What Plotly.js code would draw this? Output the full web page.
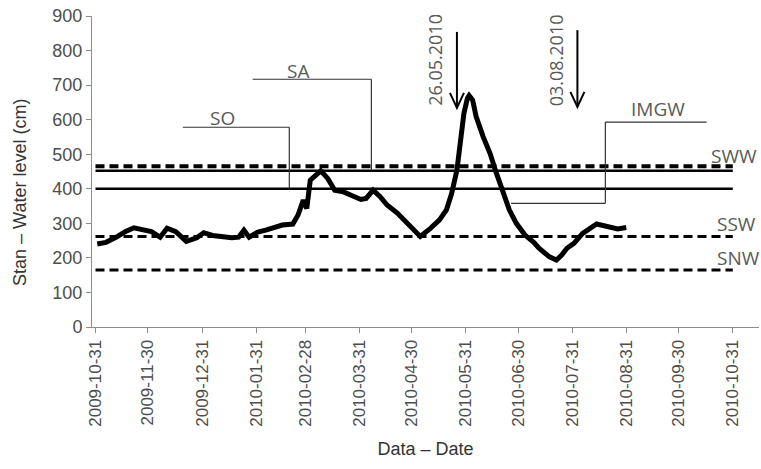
<!DOCTYPE html>
<html>
<head>
<meta charset="utf-8">
<script src="https://cdn.plot.ly/plotly-3.0.1.min.js"></script>
<style>
  html, body { margin: 0; padding: 0; background: #fff; }
  #chart { width: 761px; height: 469px; }
</style>
</head>
<body>
<div id="chart"></div>
<script>
// Daily water level readings (cm)
const dates = [
  '2009-11-01','2009-11-06','2009-11-12','2009-11-17','2009-11-22','2009-11-27',
  '2009-12-02','2009-12-07','2009-12-11','2009-12-16','2009-12-22','2009-12-28',
  '2010-01-01','2010-01-06','2010-01-12','2010-01-17','2010-01-21','2010-01-24',
  '2010-01-27','2010-02-01','2010-02-06','2010-02-10','2010-02-15','2010-02-21',
  '2010-02-24','2010-02-27','2010-03-01','2010-03-03','2010-03-06','2010-03-09',
  '2010-03-13','2010-03-17','2010-03-22','2010-03-27','2010-04-01','2010-04-04',
  '2010-04-08','2010-04-12','2010-04-16','2010-04-22','2010-04-27','2010-05-02',
  '2010-05-05','2010-05-11','2010-05-16','2010-05-20','2010-05-23','2010-05-26',
  '2010-05-28','2010-05-30','2010-06-01','2010-06-02','2010-06-04','2010-06-06',
  '2010-06-10','2010-06-14','2010-06-17','2010-06-21','2010-06-25','2010-06-29',
  '2010-07-04','2010-07-09','2010-07-12','2010-07-18','2010-07-22','2010-07-25',
  '2010-07-28','2010-08-01','2010-08-06','2010-08-14','2010-08-19','2010-08-26',
  '2010-08-31'
];
const levels = [
  240, 245, 260, 276, 287, 283,
  276, 260, 286, 276, 248, 258,
  273, 265, 260, 258, 260, 280,
  260, 275, 281, 288, 295, 298,
  324, 367, 343, 425, 440, 452,
  430, 396, 391, 380, 369, 372,
  396, 377, 353, 329, 305, 278,
  262, 286, 310, 339, 387, 454,
  541, 618, 662, 670, 657, 609,
  551, 502, 454, 396, 339, 300,
  266, 245, 228, 203, 194, 208,
  228, 242, 271, 298, 292, 284,
  288
];

// Characteristic water levels (cm)
const levelSWW = 465;   // high water
const levelSA = 452;    // alarm level
const levelSO = 400;    // warning level
const levelSSW = 262;   // mean water
const levelSNW = 165;   // low water
const levelSpan = ['2009-10-31', '2010-10-31'];

// Axis ticks
const tickDates = [
  '2009-10-31','2009-11-30','2009-12-31','2010-01-31','2010-02-28','2010-03-31',
  '2010-04-30','2010-05-31','2010-06-30','2010-07-31','2010-08-31','2010-09-30',
  '2010-10-31'
];
const yTicks = [0, 100, 200, 300, 400, 500, 600, 700, 800, 900];

// Marked events
const eventDates = ['2010-05-26', '2010-08-03'];
const eventLabels = ['26.05.2010', '03.08.2010'];

const ink = '#000000';
const grey = '#4d4d4d';
const axisGrey = '#8c8c8c';
const labelFont = { family: 'Open Sans, sans-serif', size: 19, color: '#595959' };

function levelTrace(v, dash, w) {
  return {
    x: levelSpan, y: [v, v], type: 'scatter', mode: 'lines',
    line: { color: ink, width: w, dash: dash }, hoverinfo: 'skip'
  };
}

const traces = [
  levelTrace(levelSWW, '9px,5px', 4),
  levelTrace(levelSA, 'solid', 2.5),
  levelTrace(levelSO, 'solid', 2.5),
  levelTrace(levelSSW, '9px,5px', 3),
  levelTrace(levelSNW, '9px,5px', 3),
  {
    x: dates, y: levels, type: 'scatter', mode: 'lines',
    line: { color: ink, width: 5 }
  }
];

const thin = { color: '#333333', width: 1.2 };
const shapes = [
  // SO callout
  { type: 'line', xref: 'x', yref: 'y', x0: '2009-12-20', x1: '2010-02-19', y0: 578, y1: 578, line: thin },
  { type: 'line', xref: 'x', yref: 'y', x0: '2010-02-19', x1: '2010-02-19', y0: 578, y1: levelSO, line: thin },
  // SA callout
  { type: 'line', xref: 'x', yref: 'y', x0: '2010-01-29', x1: '2010-04-07', y0: 717, y1: 717, line: thin },
  { type: 'line', xref: 'x', yref: 'y', x0: '2010-04-07', x1: '2010-04-07', y0: 717, y1: levelSA, line: thin },
  // IMGW callout
  { type: 'line', xref: 'x', yref: 'y', x0: '2010-08-19', x1: '2010-10-16', y0: 593, y1: 593, line: thin },
  { type: 'line', xref: 'x', yref: 'y', x0: '2010-08-19', x1: '2010-08-19', y0: 593, y1: 358, line: thin },
  { type: 'line', xref: 'x', yref: 'y', x0: '2010-06-26', x1: '2010-08-19', y0: 358, y1: 358, line: thin }
];

// Downward arrows above the event dates
const arrowTops = [854, 859];
const arrowTips = [634, 637];
eventDates.forEach(function (d, i) {
  shapes.push({ type: 'line', xref: 'x', yref: 'y', x0: d, x1: d, y0: arrowTops[i], y1: arrowTips[i],
    line: { color: ink, width: 2 } });
  shapes.push({ type: 'path', xref: 'x', yref: 'y', xsizemode: 'pixel', ysizemode: 'pixel',
    xanchor: d, yanchor: arrowTips[i], path: 'M-7,15 L0,0 L7,15',
    line: { color: ink, width: 2 } });
});

const annotations = [
  { xref: 'x', yref: 'y', x: '2010-01-12', y: 604, text: 'SO', showarrow: false, font: labelFont },
  { xref: 'x', yref: 'y', x: '2010-02-24', y: 742, text: 'SA', showarrow: false, font: labelFont },
  { xref: 'x', yref: 'y', x: '2010-09-18', y: 630, text: 'IMGW', showarrow: false, font: labelFont },
  { xref: 'paper', yref: 'y', x: 1.0, y: 494, text: 'SWW', showarrow: false, xanchor: 'right', font: labelFont },
  { xref: 'x', yref: 'y', x: '2010-10-21', y: 298, text: 'SSW', showarrow: false, xanchor: 'left', font: labelFont },
  { xref: 'x', yref: 'y', x: '2010-10-21', y: 200, text: 'SNW', showarrow: false, xanchor: 'left', font: labelFont },
  // y-axis title
  { xref: 'paper', yref: 'paper', x: -0.126, y: 0.434, text: 'Stan – Water level (cm)', textangle: -90,
    showarrow: false, font: { family: 'Liberation Sans, Arial, sans-serif', size: 18, color: '#333333' } }
];
eventDates.forEach(function (d, i) {
  annotations.push({ xref: 'x', yref: 'y', x: d, y: 773, xshift: -22, text: eventLabels[i],
    textangle: -90, showarrow: false, font: { family: 'Open Sans, sans-serif', size: 18, color: '#595959' } });
});

const layout = {
  width: 761, height: 469,
  margin: { l: 92, r: 2, t: 16, b: 142 },
  paper_bgcolor: '#ffffff', plot_bgcolor: '#ffffff',
  showlegend: false,
  font: { family: 'Liberation Sans, Arial, sans-serif', color: grey },
  xaxis: {
    type: 'date', range: ['2009-10-29', '2010-11-15'], autorange: false,
    tickvals: tickDates, ticktext: tickDates, tickangle: -90,
    tickfont: { size: 17, color: grey },
    ticks: 'outside', ticklen: 5, tickcolor: axisGrey,
    showline: true, linecolor: axisGrey, linewidth: 1, showgrid: false, zeroline: false,
    title: { text: 'Data – Date', font: { size: 18, color: '#333333' }, standoff: 16 }
  },
  yaxis: {
    range: [0, 900], autorange: false, tickvals: yTicks,
    tickfont: { size: 18, color: grey },
    ticks: 'outside', ticklen: 5, tickcolor: axisGrey,
    showline: true, linecolor: axisGrey, linewidth: 1, showgrid: false, zeroline: false
  },
  shapes: shapes,
  annotations: annotations
};

Plotly.newPlot('chart', traces, layout, { displayModeBar: false, staticPlot: true });
</script>
</body>
</html>
